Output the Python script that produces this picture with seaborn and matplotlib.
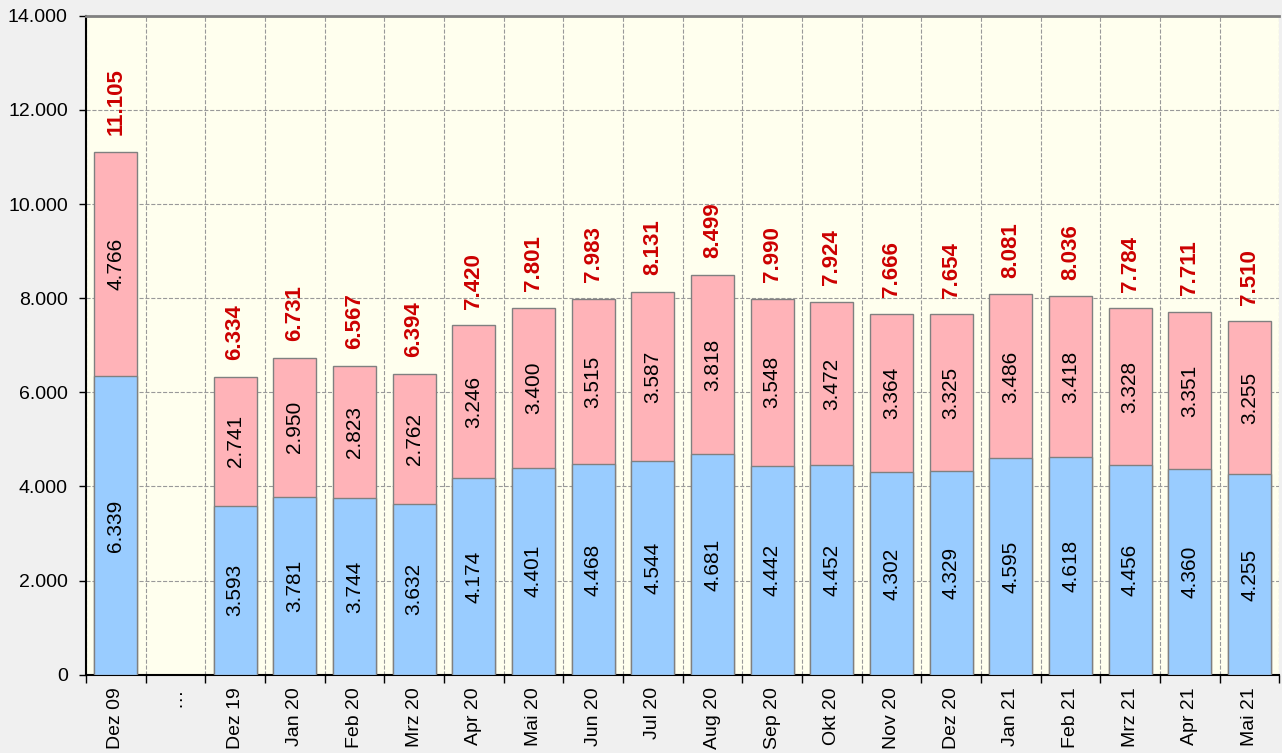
import numpy as np
import pandas as pd
import matplotlib.pyplot as plt
from matplotlib.ticker import FixedLocator
import seaborn as sns

# Daten
monate = ["Dez 09", "\u2026", "Dez 19", "Jan 20", "Feb 20", "Mrz 20", "Apr 20", "Mai 20",
          "Jun 20", "Jul 20", "Aug 20", "Sep 20", "Okt 20", "Nov 20", "Dez 20",
          "Jan 21", "Feb 21", "Mrz 21", "Apr 21", "Mai 21"]
unten = [6339, np.nan, 3593, 3781, 3744, 3632, 4174, 4401, 4468, 4544, 4681,
         4442, 4452, 4302, 4329, 4595, 4618, 4456, 4360, 4255]
oben = [4766, np.nan, 2741, 2950, 2823, 2762, 3246, 3400, 3515, 3587, 3818,
        3548, 3472, 3364, 3325, 3486, 3418, 3328, 3351, 3255]
yticks = [0, 2000, 4000, 6000, 8000, 10000, 12000, 14000]

df = pd.DataFrame({"Monat": monate, "unten": unten, "oben": oben})
df["gesamt"] = df["unten"] + df["oben"]


def de(v):
    return f"{int(v):,}".replace(",", ".")


sns.set_theme(style="white")
plt.rcParams["font.family"] = ["Liberation Sans", "DejaVu Sans"]

fig, ax = plt.subplots(figsize=(12.82, 7.53), dpi=100)
fig.patch.set_facecolor("#f0f0f0")
ax.set_facecolor("#ffffee")
fig.subplots_adjust(left=0.067, right=0.998, top=0.979, bottom=0.104)

# Balken (gesamt = rosa, darueber blau fuer den unteren Teil)
sns.barplot(data=df, x="Monat", y="gesamt", order=monate, color="#ffb3b8",
            saturation=1, width=0.72, edgecolor="#808080", linewidth=1, ax=ax, zorder=2)
sns.barplot(data=df, x="Monat", y="unten", order=monate, color="#99ccff",
            saturation=1, width=0.72, edgecolor="#808080", linewidth=1, ax=ax, zorder=3)

# Beschriftungen
for i, r in df.iterrows():
    if np.isnan(r["unten"]):
        continue
    ax.text(i, r["unten"] / 2, de(r["unten"]), rotation=90, ha="center", va="center",
            fontsize=15, color="black", zorder=4)
    ax.text(i, r["unten"] + r["oben"] / 2, de(r["oben"]), rotation=90, ha="center",
            va="center", fontsize=15, color="black", zorder=4)
    ax.annotate(de(r["gesamt"]), (i, r["gesamt"]), xytext=(0, 12), textcoords="offset points",
                rotation=90, ha="center", va="bottom", fontsize=16, fontweight="bold",
                color="#cc0000", zorder=4)

ax.set_xlim(-0.5, len(monate) - 0.5)
ax.set_ylim(0, 14000)
ax.set_yticks(yticks)
ax.set_yticklabels([de(v) for v in yticks])
ax.set_xticks(range(len(monate)))
ax.set_xticklabels(monate, rotation=90)
ax.xaxis.set_minor_locator(FixedLocator(np.arange(-0.5, len(monate), 1)))
ax.tick_params(axis="x", which="major", length=0, pad=9, labelsize=14, labelcolor="black")
ax.tick_params(axis="x", which="minor", length=6, width=1, color="black", direction="out", bottom=True)
ax.tick_params(axis="y", length=5, width=1, color="black", direction="out", left=True, pad=8,
               labelsize=14, labelcolor="black")
ax.set_xlabel("")
ax.set_ylabel("")

ax.grid(True, axis="y", which="major", color="#999999", linestyle="--", linewidth=0.8, zorder=0)
ax.grid(True, axis="x", which="minor", color="#999999", linestyle="--", linewidth=0.8, zorder=0)
ax.set_axisbelow(True)

for s in ["left", "bottom"]:
    ax.spines[s].set_color("black")
    ax.spines[s].set_linewidth(1.5)
ax.spines["top"].set_color("#808080")
ax.spines["top"].set_linewidth(2)
ax.spines["right"].set_visible(False)

plt.savefig("out.png", dpi=100, facecolor=fig.get_facecolor())
plt.close()
